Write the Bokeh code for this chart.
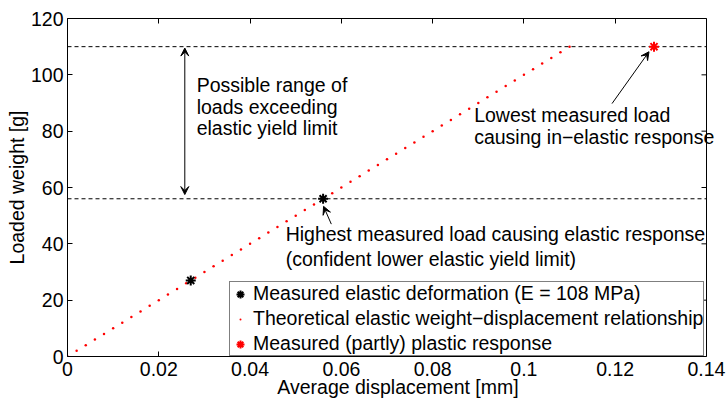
import math
from bokeh.plotting import figure
from bokeh.models import (Range1d, LinearAxis, FixedTicker, CustomJSTickFormatter, Span,
                          Arrow, VeeHead, Legend, LegendItem, LabelSet, ColumnDataSource)
from bokeh.core.properties import value
from bokeh.embed import file_html
from bokeh.resources import INLINE

FONT = "Liberation Sans"
FS = "19.5px"

# ---- data ----
elastic_x = [0.027, 0.056]
elastic_y = [27, 56]
plastic_x = [0.1285]
plastic_y = [110]
theory_x = [round(0.002 * i, 3) for i in range(56)]
theory_y = [0, 2, 4, 6, 8, 10, 12, 14, 16, 18, 20, 22, 24, 26, 28, 30, 32, 34, 36, 38,
            40, 42, 44, 46, 48, 50, 52, 54, 56, 58, 60, 62, 64, 66, 68, 70, 72, 74, 76, 78,
            80, 82, 84, 86, 88, 90, 92, 94, 96, 98, 100, 102, 104, 106, 108, 110]
limit_levels = [110, 56]
x_ticks = [0, 0.02, 0.04, 0.06, 0.08, 0.1, 0.12, 0.14]
y_ticks = [0, 20, 40, 60, 80, 100, 120]
x_lim = [0, 0.14]
y_lim = [0, 120]
x_title = "Average displacement [mm]"
y_title = "Loaded weight [g]"

range_text = ["Possible range of", "loads exceeding", "elastic yield limit"]
range_text_x = [0.0283, 0.0283, 0.0283]
range_text_y = [96.5, 88.7, 81.0]
range_arrow = [0.0257, 57.5, 0.0257, 109.5]

high_text = ["Highest measured load causing elastic response", "(confident lower elastic yield limit)"]
high_text_x = [0.0478, 0.0478]
high_text_y = [43.4, 34.6]
high_arrow = [0.0578, 47.0, 0.0561, 53.3]

low_text = ["Lowest measured load", "causing in\u2212elastic response"]
low_text_x = [0.0891, 0.0891]
low_text_y = [85.9, 78.1]
low_arrow = [0.1193, 89.8, 0.1274, 108.2]

legend_labels = ["Measured elastic deformation (E = 108 MPa)",
                 "Theoretical elastic weight\u2212displacement relationship",
                 "Measured (partly) plastic response"]

# layout: the plot box spans 67..706 px; the drawing area runs on to the window edge (728 px)
# so that annotation text may run past the right-hand box line, as in the reference
W, H = 728, 400
BOX_L, BOX_R = 67, 706
x_end = x_lim[1] * (W - BOX_L) / (BOX_R - BOX_L)

p = figure(width=W, height=H, output_backend="svg", toolbar_location=None,
           x_range=Range1d(x_lim[0], x_end), y_range=Range1d(y_lim[0], y_lim[1]),
           min_border_left=BOX_L, min_border_right=0, min_border_top=18, min_border_bottom=41)
p.grid.visible = False
p.outline_line_color = None
p.background_fill_color = "white"
p.border_fill_color = "white"

fmt = CustomJSTickFormatter(code="var s = tick.toFixed(2); s = s.replace(/0+$/, ''); s = s.replace(/\\.$/, ''); return s;")

for ax in p.xaxis:
    ax.ticker = FixedTicker(ticks=x_ticks)
    ax.formatter = fmt
    ax.bounds = (x_lim[0], x_lim[1])
for ax in p.yaxis:
    ax.ticker = FixedTicker(ticks=y_ticks)

for ax in list(p.xaxis) + list(p.yaxis):
    ax.major_tick_in = 5
    ax.major_tick_out = 0
    ax.minor_tick_line_color = None
    ax.axis_line_color = "black"
    ax.major_tick_line_color = "black"
    ax.major_label_text_font = FONT
    ax.major_label_text_font_size = FS
    ax.major_label_text_color = "black"
    ax.axis_label_text_font = FONT
    ax.axis_label_text_font_size = FS
    ax.axis_label_text_font_style = "normal"
    ax.axis_label_text_color = "black"

p.xaxis.axis_label = x_title
p.yaxis.axis_label = y_title
p.xaxis.major_label_standoff = 5
p.xaxis.axis_label_standoff = -3
p.yaxis.major_label_standoff = 4
p.yaxis.axis_label_standoff = 0

top = LinearAxis(ticker=FixedTicker(ticks=x_ticks), major_tick_in=5, major_tick_out=0,
                 minor_tick_line_color=None, major_label_text_font_size="0px",
                 major_label_standoff=0, axis_line_color="black", bounds=(x_lim[0], x_lim[1]))
p.add_layout(top, "above")

# right-hand box line with inward ticks
p.add_layout(Span(location=x_lim[1], dimension="height", line_color="black", line_width=1))
p.ray(x=[x_lim[1]] * len(y_ticks), y=y_ticks, length=5, length_units="screen",
      angle=math.pi, line_color="black", line_width=1)

p.segment(x0=[x_lim[0]] * len(limit_levels), x1=[x_lim[1]] * len(limit_levels),
          y0=limit_levels, y1=limit_levels, line_color="black", line_dash="4 3", line_width=1)

r_theory = p.scatter(theory_x, theory_y, marker="dot", size=10, line_color="red", fill_color="red")
r_el = p.scatter(elastic_x, elastic_y, marker="asterisk", size=10, line_color="black", line_width=2)
r_pl = p.scatter(plastic_x, plastic_y, marker="asterisk", size=10, line_color="red", line_width=2)

def arrow(c, both=False):
    a = Arrow(x_start=c[0], y_start=c[1], x_end=c[2], y_end=c[3],
              line_color="black", line_width=1,
              end=VeeHead(size=8, fill_color="black", line_color="black"),
              start=(VeeHead(size=8, fill_color="black", line_color="black") if both else None))
    p.add_layout(a)

arrow(range_arrow, both=True)
arrow(high_arrow)
arrow(low_arrow)

for tx, ty, tt in [(range_text_x, range_text_y, range_text),
                   (high_text_x, high_text_y, high_text),
                   (low_text_x, low_text_y, low_text)]:
    src = ColumnDataSource(dict(x=tx, y=ty, text=tt))
    p.add_layout(LabelSet(x="x", y="y", text="text", source=src, text_font=value(FONT),
                          text_font_size=value(FS), text_color="black", text_align="left",
                          text_baseline="middle"))

legend = Legend(items=[LegendItem(label=legend_labels[0], renderers=[r_el]),
                       LegendItem(label=legend_labels[1], renderers=[r_theory]),
                       LegendItem(label=legend_labels[2], renderers=[r_pl])],
                location=(162, 0), margin=0, padding=0, spacing=2,
                label_height=22, glyph_height=22, glyph_width=20, label_standoff=3,
                label_text_font=FONT, label_text_font_size=FS, label_text_color="black",
                border_line_color="black", border_line_width=1,
                background_fill_alpha=1.0, background_fill_color="white")
p.add_layout(legend)

open("out.html", "w").write(file_html(p, INLINE))
